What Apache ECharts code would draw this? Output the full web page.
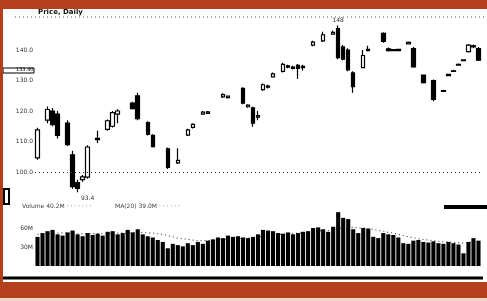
<!DOCTYPE html>
<html>
<head>
<meta charset="utf-8">
<script src="https://cdn.jsdelivr.net/npm/echarts@6/dist/echarts.min.js"></script>
<style>
  html, body { margin: 0; padding: 0; }
  body { width: 487px; height: 301px; background: #b3401a; position: relative; overflow: hidden; }
  #chart { position: absolute; left: 3px; top: 9px; width: 484px; height: 273px; background: #fff; }
  #strip { position: absolute; left: 0; top: 298px; width: 487px; height: 3px; background: #ecd6cc; }
</style>
</head>
<body>
<div id="chart"></div>
<div id="strip"></div>
<script>
// price bars: [open, close, low, high], '-' where no bar is visible
var candles = [
    [104.6, 113.8, 104, 114.5], '-', [117, 120.5, 116, 121.5], [120, 115.5, 115, 121],
    [119, 112, 111, 120], '-', [116, 109, 108.5, 117], [105.6, 95.2, 94.5, 107],
    [96.5, 94.6, 93.4, 97.5], [97.5, 98.4, 96.8, 99], [98.3, 108.2, 97.8, 108.8], '-',
    [110.6, 111, 109.5, 113.5], '-', [114, 116.8, 113.5, 117.2], [115, 119.5, 114.6, 120],
    [119, 120, 116, 120.6], '-', '-', [122.6, 120.8, 120.5, 123],
    [125, 117.5, 117, 126], '-', [116.2, 112.3, 112, 116.6], [112, 108.3, 108, 112.4],
    '-', '-', [107.6, 101.5, 101, 108], '-',
    [103, 103.8, 102.6, 107.8], '-', [112.1, 113.8, 111.8, 114.2], [114.6, 115.6, 114.3, 116],
    '-', [119, 119.6, 118.8, 120], [119.2, 119.7, 119, 120], '-',
    '-', [124.6, 125.4, 124.3, 125.8], [124.4, 124.9, 124.1, 125.1], '-',
    '-', [127.4, 122.6, 122.2, 127.8], [121.4, 121.9, 121.1, 122.2], [121, 116, 114.8, 121.4],
    [118, 118.5, 117, 120], [127, 128.6, 126.6, 129], [127.8, 128.2, 127.4, 128.6], [131.2, 132.2, 131, 132.6],
    '-', [133, 135.3, 132.6, 135.8], [134.4, 134.8, 134, 135.2], [134, 134.4, 133.6, 134.8],
    [135, 134, 130.5, 135.4], [134.2, 134.6, 133.3, 135.2], '-', [141.6, 142.6, 141.2, 143],
    '-', [143, 145, 142.6, 146], '-', [145.2, 145.8, 145, 146.3],
    [147, 137.5, 137, 148], [141, 137, 136.6, 141.6], [140, 133.5, 133, 140.6], [132.5, 128, 126, 133],
    '-', [134.2, 138.2, 134, 140], [139.8, 140.2, 139.6, 141.4], '-',
    '-', [145.5, 142.8, 142.4, 145.8], [140.4, 139.8, 139.5, 140.8], [140.1, 139.8, 139.6, 140.3],
    [139.8, 140.2, 139.6, 140.4], '-', [142, 142.5, 141.8, 142.8], [140.5, 134.5, 134.2, 141],
    '-', [131.8, 129.3, 129, 132], '-', [130, 123.8, 123.2, 130.3],
    '-', [126.4, 126.7, 126.2, 127], [131.6, 132, 131.4, 132.2], [133, 133.2, 132.8, 133.5],
    [135, 135.3, 134.8, 135.6], [136.5, 136.8, 136.3, 137], [139.5, 141.6, 139.2, 142], [141.4, 141, 140.6, 141.8],
    [140.5, 136.7, 136.4, 141]
];
var volumes = [
    46, 52, 55, 57, 50, 48, 53, 56, 50, 47, 52,
    49, 51, 48, 54, 55, 50, 52, 57, 53, 58, 50, 47, 45,
    41, 38, 28,
    35, 33, 31, 36, 33, 38, 35, 40,
    42, 45, 44, 48, 46, 47, 45, 44, 46,
    50, 57, 56, 55,
    52, 51, 53, 50, 52, 54,
    55, 60, 61, 58, 54,
    62, 85, 76, 74,
    58, 52, 60, 59,
    46, 44, 52, 50, 49, 45,
    36, 35, 40, 41, 38, 37,
    39, 36, 35, 38, 36, 34,
    20, 38, 44, 40
];
var volumeMA = [
    50, 50, 51, 51, 52, 52, 52, 51, 51, 51, 51,
    51, 51, 51, 51, 52, 52, 52, 52, 53, 53, 53, 52, 52,
    51, 50, 48,
    46, 44, 43, 42, 41, 40, 40, 40,
    41, 41, 42, 42, 43, 43, 44, 44, 45,
    46, 47, 48, 49,
    50, 50, 51, 51, 52, 52,
    53, 54, 55, 56, 56,
    57, 59, 60, 61,
    61, 60, 60, 59,
    58, 56, 55, 53, 52, 50,
    48, 46, 45, 43, 42, 41,
    40, 39, 38, 38, 37, 37,
    36, 37, 38, 39
];
var days = [];
for (var i = 0; i < volumes.length; i++) {
    days.push('D' + (i + 1));
}
var priceTicks = [100, 110, 120, 130, 140];
var volumeTicks = [30, 60];
var lastPrice = 133.4;

var chart = echarts.init(document.getElementById('chart'));
var font = 'DejaVu Sans';

var option = {
    animation: false,
    backgroundColor: '#fff',
    grid: [
        { left: 32, right: 6, top: 10.5, height: 183 },
        { left: 32, right: 6, top: 200, height: 57 }
    ],
    xAxis: [
        { type: 'category', gridIndex: 0, data: days, show: false },
        { type: 'category', gridIndex: 1, data: days, show: false }
    ],
    yAxis: [
        {
            gridIndex: 0, min: 90, max: 150, interval: 10,
            axisLine: { show: false }, axisTick: { show: false }, splitLine: { show: false },
            axisLabel: {
                fontFamily: font, fontSize: 6, color: '#333', margin: 2,
                formatter: function (v) { return priceTicks.indexOf(v) >= 0 ? v.toFixed(1) : ''; }
            }
        },
        {
            gridIndex: 1, min: 0, max: 90, interval: 30,
            axisLine: { show: false }, axisTick: { show: false }, splitLine: { show: false },
            axisLabel: {
                fontFamily: font, fontSize: 6, color: '#333', margin: 2,
                formatter: function (v) { return volumeTicks.indexOf(v) >= 0 ? v + 'M' : ''; }
            }
        }
    ],
    series: [
        {
            type: 'candlestick',
            xAxisIndex: 0, yAxisIndex: 0,
            data: candles,
            barWidth: 4,
            itemStyle: {
                color: '#fff', color0: '#000',
                borderColor: '#000', borderColor0: '#000', borderWidth: 1.2
            },
            markLine: {
                silent: true, symbol: 'none',
                label: { show: false },
                lineStyle: { color: '#333', type: [1, 3], width: 1 },
                data: [{ yAxis: 100 }]
            },
            markPoint: {
                symbol: 'circle', symbolSize: 0,
                data: [
                    { type: 'max', valueDim: 'highest', label: { position: 'top', distance: 2 } },
                    { type: 'min', valueDim: 'lowest', label: { position: 'bottom', distance: 3, offset: [10, 0] } }
                ],
                label: { show: true, fontFamily: font, fontSize: 6, color: '#333' }
            }
        },
        {
            type: 'bar',
            xAxisIndex: 1, yAxisIndex: 1,
            data: volumes,
            barCategoryGap: '18%',
            itemStyle: { color: '#000' }
        },
        {
            type: 'line',
            xAxisIndex: 1, yAxisIndex: 1,
            data: volumeMA,
            symbol: 'none',
            lineStyle: { color: '#222', width: 1, type: [1, 3] },
            z: 1
        }
    ],
    graphic: [
        { type: 'text', left: 35, top: 0, style: { text: 'Price, Daily', fontFamily: font, fontSize: 7, fontWeight: 'bold', fill: '#111' } },
        { type: 'line', shape: { x1: 12, y1: 8, x2: 484, y2: 8 }, style: { stroke: '#555', lineWidth: 1, lineDash: [1, 3] } },
        { type: 'rect', shape: { x: 0, y: 59, width: 31, height: 5 }, style: { fill: '#fff', stroke: '#000', lineWidth: 1 } },
        { type: 'text', x: 13, y: 58.5, style: { text: lastPrice.toFixed(2), fontFamily: font, fontSize: 5, fill: '#000' } },
        { type: 'rect', shape: { x: 1, y: 180, width: 5, height: 15 }, style: { fill: 'none', stroke: '#000', lineWidth: 2 } },
        { type: 'text', x: 19, y: 194, style: { text: 'Volume 40.2M · · · · · · ·', fontFamily: font, fontSize: 6, fill: '#444' } },
        { type: 'text', x: 112, y: 194, style: { text: 'MA(20) 39.0M · · · · · ·', fontFamily: font, fontSize: 6, fill: '#444' } },
        { type: 'rect', shape: { x: 441, y: 196, width: 43, height: 4 }, style: { fill: '#000' } },
        { type: 'line', shape: { x1: 0, y1: 269, x2: 480, y2: 269 }, style: { stroke: '#000', lineWidth: 3 } }
    ]
};
chart.setOption(option);
</script>
</body>
</html>
